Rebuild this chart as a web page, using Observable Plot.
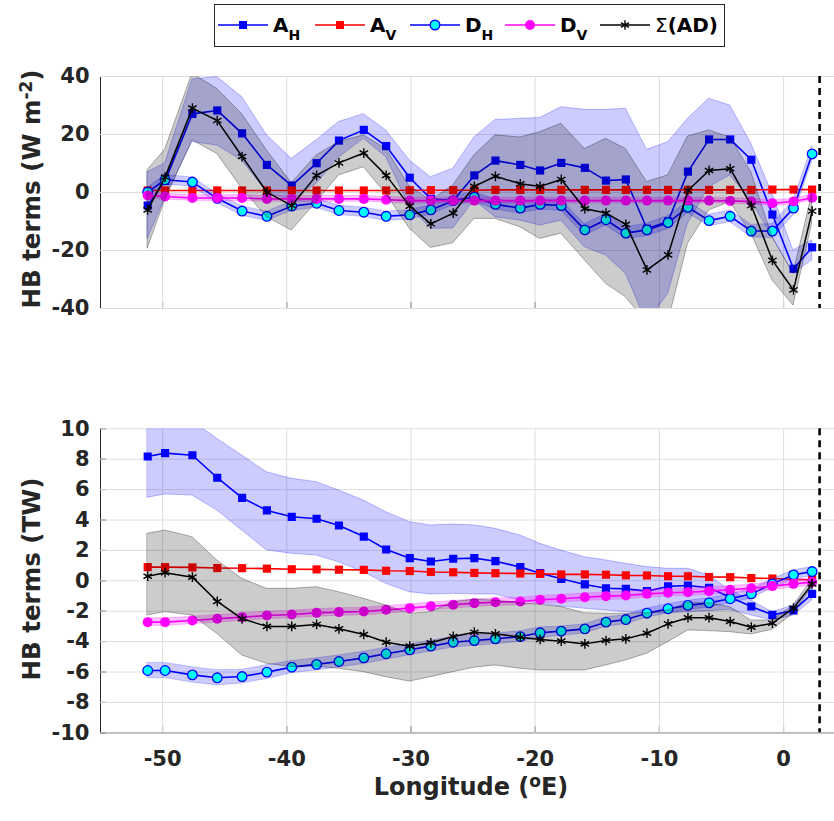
<!DOCTYPE html>
<html><head><meta charset="utf-8">
<script src="https://cdn.jsdelivr.net/npm/d3@7"></script>
<script src="https://cdn.jsdelivr.net/npm/@observablehq/plot@0.6"></script>
<style>
body{margin:0;background:#fff;}
#wrap{position:relative;width:834px;height:821px;font-family:"DejaVu Sans";overflow:hidden;}
#top{position:absolute;left:0;top:0;}
#bot{position:absolute;left:0;top:400px;}
#legend{position:absolute;left:214px;top:4px;}
</style></head><body>
<div id="wrap"><div id="top"></div><div id="bot"></div><div id="legend"></div></div>
<script>
// ---------- data ----------
const lon = [-51.2, -49.8, -47.6, -45.6, -43.6, -41.6, -39.6, -37.6, -35.8, -33.8, -32.0, -30.1, -28.4, -26.6, -24.9, -23.2, -21.2, -19.6, -17.9, -16.0, -14.3, -12.7, -11.0, -9.3, -7.7, -6.0, -4.3, -2.6, -0.9, 0.8, 2.3];
const xTicks = [-50, -40, -30, -20, -10, 0];
const yTicksTop = [-40, -20, 0, 20, 40];
const yTicksBot = [-10, -8, -6, -4, -2, 0, 2, 4, 6, 8, 10];
const dashLon = [2.9];

// top panel (W m-2)
const AH_top = [-4.5, 4, 27.1, 28.3, 20.4, 9.5, 2.4, 10.1, 17.9, 21.6, 16.0, 5.1, -2.2, -2.8, 5.9, 11.0, 9.5, 7.6, 10.2, 8.5, 4.1, 4.5, -12.5, -10.0, 7.2, 18.3, 18.3, 11.3, -7.6, -26.3, -18.9];
const AH_top_hi = [7, 10, 39, 39.8, 32.9, 19.7, 11.6, 18, 24.3, 27, 21.4, 11, 5.3, 8.2, 19, 25, 25.4, 25.7, 29.4, 28.5, 28.5, 28.9, 14.7, 17.3, 25.4, 32.3, 30, 16.8, -0.5, -20, -16.5];
const AH_top_lo = [-16, -2, 17.4, 16.2, 11, 0.1, -2.8, 3, 12, 18.5, 12.2, -5, -12.5, -12.4, -2.8, -8.5, -9.7, -11.4, -9.7, -18.9, -21.7, -28, -45, -35, -10.7, 1.8, 5.9, -2.8, -15.4, -28, -23.4];
const AV_top = [0.7, 0.7, 0.7, 0.7, 0.7, 0.7, 0.7, 0.7, 0.7, 0.7, 0.7, 0.8, 0.8, 0.8, 0.8, 0.9, 0.9, 0.9, 0.9, 0.9, 0.9, 0.9, 0.9, 0.9, 0.9, 0.9, 0.9, 0.9, 1.0, 1.0, 1.0];
const DH_top = [0.1, 4.4, 3.6, -2, -6.4, -8.2, -4.7, -3.7, -6.2, -6.8, -8.2, -7.7, -6, -2.8, -1.6, -4.1, -5.4, -4.1, -4.5, -12.9, -9.4, -14, -12.9, -10.4, -5.1, -9.7, -8.2, -13.3, -13.3, -5.4, 13.3];
const DH_top_err = [1.6, 1.6, 1.6, 1.6, 1.6, 1.6, 1.6, 1.6, 1.6, 1.6, 1.6, 1.6, 1.6, 1.6, 1.6, 1.8, 1.8, 1.8, 1.8, 2.0, 2.0, 2.0, 2.2, 2.2, 2.0, 2.0, 2.0, 2.2, 2.4, 2.6, 2.6];
const DV_top = [-1.0, -1.4, -1.9, -1.9, -1.9, -2.2, -2.2, -2.2, -2.2, -2.2, -2.5, -2.8, -2.8, -2.8, -2.8, -2.8, -2.8, -2.8, -2.8, -2.8, -2.8, -2.8, -2.8, -2.8, -2.8, -2.8, -2.9, -3.1, -3.7, -3.1, -1.8];
const DV_top_err = [1.0, 1.0, 1.0, 1.0, 1.0, 1.0, 1.0, 1.0, 1.0, 1.0, 1.0, 1.0, 1.0, 1.0, 1.0, 1.0, 1.0, 1.0, 1.0, 1.0, 1.0, 1.0, 1.0, 1.0, 1.0, 1.0, 1.0, 1.0, 1.0, 1.0, 1.0];
const S_top = [-6, 5.3, 29.1, 24.8, 12.4, 0.1, -4.5, 5.9, 10.2, 13.6, 5.9, -4.7, -10.8, -7.1, 2.1, 5.6, 3, 2.1, 4.5, -5.6, -7.1, -11, -26.7, -21.5, 0.7, 7.6, 8.2, -4.5, -23.4, -33.6, -6.4];
const S_top_hi = [7.8, 14.7, 41, 35.7, 27, 14.5, 3.2, 12.8, 17.4, 19.7, 15, 2.1, -2.8, 2.4, 12.8, 19.7, 19, 20.8, 23.7, 15, 18.5, 15, 3.6, 5.9, 19.3, 21.4, 19, 7, -15.4, -28, -0.5];
const S_top_lo = [-19.3, -2.8, 18, 13.3, 1.3, -8.5, -13.1, -3.3, 5.9, 8.7, -0.5, -12.5, -19.1, -17.5, -9.1, -9.1, -12, -16, -14.2, -23.4, -31.5, -36.1, -45, -45, -17.7, -6.2, -3.3, -14.2, -30.3, -39, -10.8];

// bottom panel (TW)
const AH_bot = [8.18, 8.4, 8.26, 6.78, 5.46, 4.63, 4.21, 4.08, 3.64, 2.91, 2.06, 1.49, 1.27, 1.45, 1.49, 1.29, 0.9, 0.5, 0.13, -0.24, -0.49, -0.53, -0.68, -0.37, -0.31, -0.46, -1.08, -1.69, -2.24, -1.95, -0.86];
const AH_bot_hi = [11, 11, 10.5, 9.34, 8.24, 7.14, 6.71, 6.49, 5.94, 5.28, 4.51, 3.86, 3.64, 3.7, 3.64, 3.42, 2.98, 2.43, 1.99, 1.55, 1.34, 1.12, 0.9, 0.79, 0.79, 0.35, -0.64, -1.3, -2.07, -1.62, -0.42];
const AH_bot_lo = [5.46, 5.68, 5.61, 4.63, 3.31, 2.0, 1.78, 1.66, 1.22, 0.57, -0.2, -0.75, -0.9, -0.86, -0.9, -0.9, -1.3, -1.51, -1.69, -1.84, -1.95, -2.07, -2.13, -2.13, -2.07, -2.0, -1.91, -2.28, -2.61, -2.28, -1.3];
const AV_bot = [0.9, 0.9, 0.88, 0.84, 0.83, 0.8, 0.76, 0.75, 0.73, 0.72, 0.66, 0.64, 0.58, 0.56, 0.52, 0.5, 0.48, 0.46, 0.42, 0.42, 0.4, 0.36, 0.35, 0.3, 0.3, 0.25, 0.24, 0.18, 0.15, 0.1, 0.05];
const DH_bot = [-5.9, -5.9, -6.19, -6.38, -6.3, -6.01, -5.68, -5.5, -5.31, -5.07, -4.8, -4.54, -4.3, -4.04, -3.93, -3.82, -3.67, -3.42, -3.31, -3.16, -2.72, -2.55, -2.13, -1.84, -1.62, -1.45, -1.18, -0.86, -0.2, 0.39, 0.61];
const DH_bot_err = [0.5, 0.5, 0.5, 0.5, 0.45, 0.45, 0.4, 0.4, 0.4, 0.4, 0.4, 0.35, 0.35, 0.35, 0.35, 0.35, 0.35, 0.35, 0.3, 0.3, 0.3, 0.3, 0.3, 0.3, 0.3, 0.3, 0.3, 0.3, 0.3, 0.3, 0.3];
const DV_bot = [-2.72, -2.72, -2.61, -2.5, -2.39, -2.28, -2.22, -2.11, -2.06, -2.02, -1.91, -1.8, -1.67, -1.58, -1.47, -1.41, -1.36, -1.25, -1.18, -1.08, -1.01, -0.97, -0.86, -0.79, -0.75, -0.68, -0.59, -0.49, -0.35, -0.2, -0.09];
const DV_bot_err = [0.25, 0.25, 0.25, 0.25, 0.25, 0.25, 0.25, 0.25, 0.25, 0.25, 0.25, 0.25, 0.25, 0.25, 0.25, 0.25, 0.25, 0.25, 0.25, 0.25, 0.25, 0.25, 0.25, 0.25, 0.25, 0.25, 0.25, 0.25, 0.25, 0.25, 0.25];
const S_bot = [0.3, 0.53, 0.24, -1.36, -2.5, -3.0, -3.0, -2.87, -3.16, -3.53, -4.04, -4.3, -4.08, -3.66, -3.38, -3.49, -3.71, -3.86, -3.97, -4.15, -3.93, -3.82, -3.45, -2.83, -2.43, -2.43, -2.68, -3.05, -2.79, -1.8, -0.2];
const S_bot_hi = [3.09, 3.31, 2.87, 1.34, 0.13, -0.53, -0.53, -0.42, -0.75, -1.18, -1.62, -2.17, -2.06, -1.41, -1.25, -1.3, -1.47, -1.58, -1.73, -2.13, -2.17, -2.17, -2.13, -1.95, -1.47, -1.47, -1.73, -2.61, -2.61, -1.62, 0.07];
const S_bot_lo = [-2.28, -2.06, -2.28, -3.49, -4.91, -5.46, -5.68, -5.64, -5.79, -6.01, -6.34, -6.63, -6.34, -6.01, -5.72, -5.57, -5.79, -5.9, -5.9, -5.9, -5.57, -5.24, -4.8, -4.04, -3.27, -3.31, -3.38, -3.53, -3.22, -2.17, -0.42];

const legendNames = [["A", "H"], ["A", "V"], ["D", "H"], ["D", "V"], ["\u03A3", "(AD)"]];

// ---------- helpers ----------
const tbl = (v, lo, hi) => lon.map((x, i) => ({x, v: v[i], lo: lo ? lo[i] : null, hi: hi ? hi[i] : null}));
const tblErr = (v, e) => lon.map((x, i) => ({x, v: v[i], lo: v[i] - e[i], hi: v[i] + e[i]}));

function panel({height, marginTop, marginBottom, domain, yTicks, AH, AV, DH, DV, S, xLabels}) {
  const grid = "#dedede";
  return Plot.plot({
    width: 834, height, marginTop, marginBottom, marginLeft: 100, marginRight: 0,
    style: {fontFamily: "DejaVu Sans", fontSize: "21px", fontWeight: "bold", color: "#262626", background: "white", overflow: "visible"},
    x: {domain: [-55, 4.1], ticks: xTicks, tickSize: -6, tickPadding: xLabels ? 24 : 0, line: true, label: null,
        tickFormat: xLabels ? (d => String(d)) : (() => "")},
    y: {domain, ticks: yTicks, tickSize: -6, tickPadding: 17, line: true, label: null,
        tickFormat: d => String(d)},
    marks: [
      Plot.ruleX(xTicks, {stroke: grid, strokeWidth: 1}),
      Plot.ruleY(yTicks, {stroke: grid, strokeWidth: 1}),
      // A_H
      Plot.areaY(AH, {x: "x", y1: "lo", y2: "hi", fill: "#0000ff", fillOpacity: 0.2, stroke: "#0000ff", strokeOpacity: 0.25, clip: true}),
      Plot.lineY(AH, {x: "x", y: "v", stroke: "#0000ff", strokeWidth: 1.6, clip: true}),
      Plot.dot(AH, {x: "x", y: "v", symbol: "square", fill: "#0000ff", r: 4.6, clip: true}),
      // A_V
      Plot.lineY(AV, {x: "x", y: "v", stroke: "#ff0000", strokeWidth: 1.6}),
      Plot.dot(AV, {x: "x", y: "v", symbol: "square", fill: "#ff0000", r: 4.6}),
      // D_H
      Plot.areaY(DH, {x: "x", y1: "lo", y2: "hi", fill: "#0000ff", fillOpacity: 0.2, stroke: "#0000ff", strokeOpacity: 0.2, clip: true}),
      Plot.lineY(DH, {x: "x", y: "v", stroke: "#0000ff", strokeWidth: 1.6}),
      Plot.dot(DH, {x: "x", y: "v", symbol: "circle", fill: "#00ffff", stroke: "#0000ff", strokeWidth: 1.3, r: 4.8}),
      // D_V
      Plot.areaY(DV, {x: "x", y1: "lo", y2: "hi", fill: "#ff00ff", fillOpacity: 0.25, stroke: "#ff00ff", strokeOpacity: 0.2, clip: true}),
      Plot.lineY(DV, {x: "x", y: "v", stroke: "#ff00ff", strokeWidth: 1.6}),
      Plot.dot(DV, {x: "x", y: "v", symbol: "circle", fill: "#ff00ff", r: 5}),
      // Sum
      Plot.areaY(S, {x: "x", y1: "lo", y2: "hi", fill: "#000000", fillOpacity: 0.2, stroke: "#000000", strokeOpacity: 0.3, clip: true}),
      Plot.lineY(S, {x: "x", y: "v", stroke: "#000000", strokeWidth: 1.5, clip: true}),
      Plot.dot(S, {x: "x", y: "v", symbol: "asterisk", stroke: "#000000", strokeWidth: 1.4, r: 4.6, clip: true}),
      Plot.ruleX(dashLon, {stroke: "#000000", strokeWidth: 2.6, strokeDasharray: "7,5"})
    ]
  });
}

const topPlot = panel({height: 340, marginTop: 76, marginBottom: 32, domain: [-40, 40], yTicks: yTicksTop,
  AH: tbl(AH_top, AH_top_lo, AH_top_hi), AV: tbl(AV_top), DH: tblErr(DH_top, DH_top_err), DV: tblErr(DV_top, DV_top_err),
  S: tbl(S_top, S_top_lo, S_top_hi), xLabels: false});
const botPlot = panel({height: 421, marginTop: 28.3, marginBottom: 88.7, domain: [-10, 10], yTicks: yTicksBot,
  AH: tbl(AH_bot, AH_bot_lo, AH_bot_hi), AV: tbl(AV_bot), DH: tblErr(DH_bot, DH_bot_err), DV: tblErr(DV_bot, DV_bot_err),
  S: tbl(S_bot, S_bot_lo, S_bot_hi), xLabels: true});
document.getElementById("top").appendChild(topPlot);
document.getElementById("bot").appendChild(botPlot);

// axis titles
function yTitle(svg, cx, cy, main, sup, tail) {
  const t = d3.select(svg).append("text")
    .attr("transform", `translate(${cx},${cy}) rotate(-90)`)
    .attr("text-anchor", "middle").attr("fill", "#262626")
    .style("font-family", "DejaVu Sans").style("font-weight", "bold").style("font-size", "24.5px");
  t.append("tspan").text(main);
  if (sup) {
    t.append("tspan").attr("dy", "-0.5em").style("font-size", "17px").text(sup);
    t.append("tspan").attr("dy", "0.36em").text(tail);
  }
}
yTitle(topPlot, 40, 189, "HB terms (W m", "-2", ")");
yTitle(botPlot, 40, 179, "HB terms (TW)");
{
  const t = d3.select(botPlot).append("text")
    .attr("x", 471).attr("y", 395).attr("text-anchor", "middle").attr("fill", "#262626")
    .style("font-family", "DejaVu Sans").style("font-weight", "bold").style("font-size", "24px");
  t.append("tspan").text("Longitude (");
  t.append("tspan").attr("dy", "-0.5em").style("font-size", "17px").text("o");
  t.append("tspan").attr("dy", "0.36em").text("E)");
}

// legend
{
  const svg = d3.select("#legend").append("svg").attr("width", 512).attr("height", 44)
    .style("font-family", "DejaVu Sans").style("font-weight", "bold");
  svg.append("rect").attr("x", 0.5).attr("y", 0.5).attr("width", 510).attr("height", 42)
    .attr("fill", "white").attr("stroke", "#262626");
  const starts = [4, 101, 196, 291, 386];
  const styles = [
    {line: "#0000ff", sym: d3.symbolSquare, size: 64, fill: "#0000ff", stroke: "none"},
    {line: "#ff0000", sym: d3.symbolSquare, size: 64, fill: "#ff0000", stroke: "none"},
    {line: "#0000ff", sym: d3.symbolCircle, size: 72, fill: "#00ffff", stroke: "#0000ff"},
    {line: "#ff00ff", sym: d3.symbolCircle, size: 78, fill: "#ff00ff", stroke: "none"},
    {line: "#000000", sym: d3.symbolAsterisk, size: 60, fill: "none", stroke: "#000000"}
  ];
  legendNames.forEach(([a, b], i) => {
    const x0 = starts[i], st = styles[i];
    svg.append("line").attr("x1", x0).attr("x2", x0 + 50).attr("y1", 21).attr("y2", 21)
      .attr("stroke", st.line).attr("stroke-width", 1.6);
    svg.append("path").attr("d", d3.symbol(st.sym, st.size)()).attr("transform", `translate(${x0 + 25},21)`)
      .attr("fill", st.fill).attr("stroke", st.stroke).attr("stroke-width", 1.4);
    const t = svg.append("text").attr("x", x0 + 55).attr("y", 28).attr("fill", "#000").style("font-size", "20px");
    if (i < 4) {
      t.append("tspan").text(a);
      t.append("tspan").attr("dy", 8).style("font-size", "14px").text(b);
    } else {
      t.append("tspan").style("font-weight", "normal").text(a);
      t.append("tspan").text(b);
    }
  });
}
</script>
</body></html>
